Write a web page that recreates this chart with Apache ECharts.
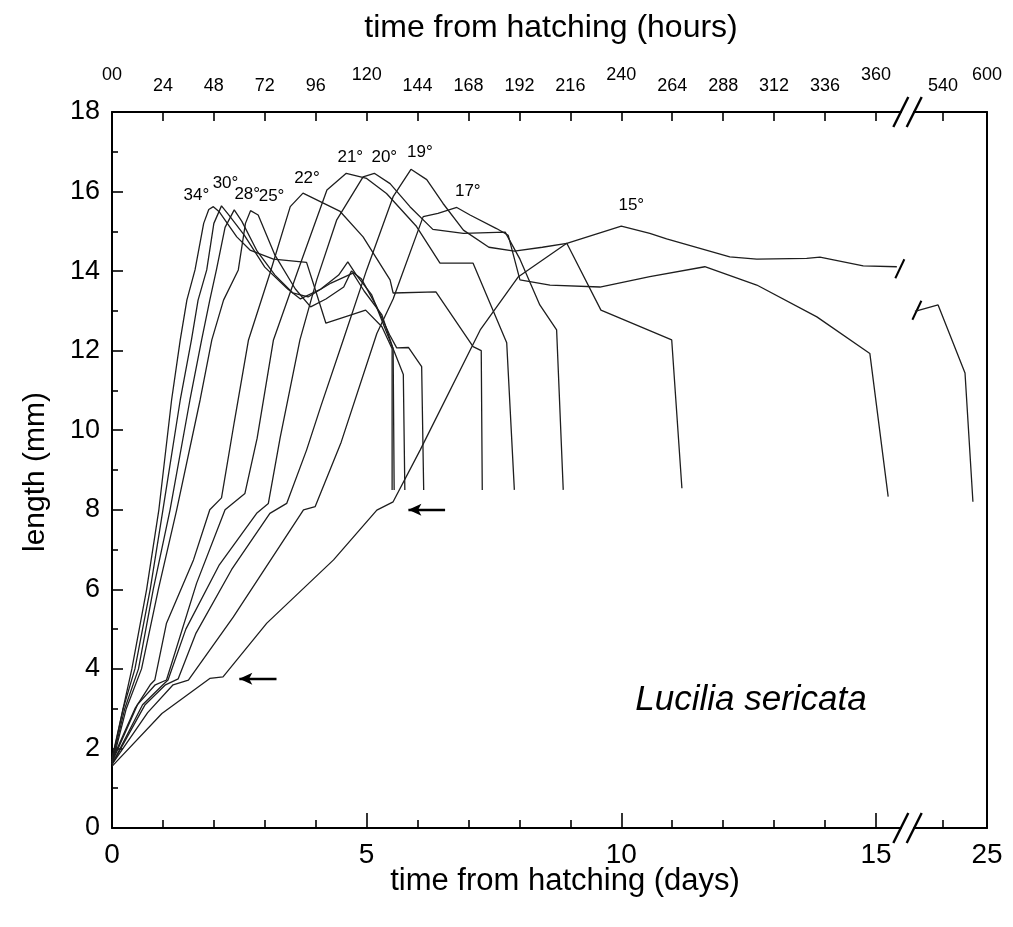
<!DOCTYPE html>
<html><head><meta charset="utf-8">
<script src="https://cdn.jsdelivr.net/npm/echarts@6/dist/echarts.min.js"></script>
<style>html,body{margin:0;padding:0;background:#fff}#c{width:1013px;height:927px}</style>
</head><body><div id="c"></div>
<script>
// ---------------- data (days, length mm) ----------------
const temps = ['34°','30°','28°','25°','22°','21°','20°','19°','17°','15°'];
const c34 = [[0,1.75],[0.2,2.9],[0.39,4.0],[0.68,6.0],[0.92,8.0],[1.17,10.76],[1.34,12.27],[1.47,13.27],[1.63,14.03],[1.8,15.2],[1.9,15.55],[1.99,15.62],[2.1,15.5],[2.45,14.86],[2.71,14.53],[3.17,14.3],[3.82,14.22],[3.95,13.7],[4.2,12.69],[4.98,13.02],[5.3,12.6],[5.5,12.05],[5.5,8.5]];
const c30 = [[0,1.7],[0.22,3.0],[0.45,4.0],[0.75,6.0],[1.0,8.0],[1.34,10.76],[1.56,12.27],[1.69,13.27],[1.86,14.03],[2.0,15.2],[2.15,15.64],[2.3,15.4],[2.6,14.9],[3.0,14.1],[3.45,13.55],[3.7,13.3],[4.1,13.55],[4.45,13.9],[4.63,14.23],[4.8,13.9],[5.1,13.4],[5.52,12.05],[5.54,8.5]];
const c28 = [[0,1.65],[0.25,3.0],[0.52,4.0],[0.81,6.0],[1.14,8.0],[1.53,10.76],[1.76,12.27],[1.92,13.27],[2.05,14.03],[2.22,15.1],[2.4,15.54],[2.55,15.25],[2.85,14.5],[3.2,13.9],[3.55,13.45],[3.85,13.35],[4.3,13.7],[4.73,13.95],[4.95,13.5],[5.3,12.9],[5.52,12.05],[5.72,11.4],[5.75,8.5]];
const c25 = [[0,1.6],[0.28,3.0],[0.58,4.0],[0.91,6.0],[1.27,8.0],[1.73,10.76],[1.96,12.27],[2.19,13.27],[2.48,14.03],[2.62,15.2],[2.72,15.52],[2.87,15.41],[3.2,14.4],[3.6,13.55],[3.9,13.1],[4.2,13.3],[4.55,13.6],[4.7,14.0],[4.9,13.8],[5.2,13.1],[5.45,12.4],[5.59,12.07],[5.82,12.08],[6.08,11.6],[6.12,8.5]];
const c22 = [[0,1.7],[0.45,3.0],[0.75,3.6],[0.84,3.72],[1.07,5.15],[1.6,6.74],[1.92,8.0],[2.15,8.3],[2.4,10.2],[2.68,12.27],[3.1,13.94],[3.5,15.62],[3.75,15.96],[4.48,15.5],[4.93,14.86],[5.46,13.78],[5.52,13.45],[6.36,13.48],[7.09,12.1],[7.25,12.0],[7.27,8.5]];
const c21 = [[0,1.65],[0.5,3.1],[0.85,3.6],[1.07,3.72],[1.66,6.15],[2.22,8.0],[2.61,8.41],[2.85,9.8],[3.17,12.27],[3.63,13.94],[4.22,16.04],[4.6,16.46],[5.0,16.33],[5.39,15.95],[5.98,15.12],[6.44,14.2],[7.09,14.2],[7.75,12.2],[7.9,8.5]];
const c20 = [[0,1.6],[0.6,3.1],[1.0,3.6],[1.1,3.72],[1.45,5.0],[2.1,6.6],[2.84,7.91],[3.07,8.16],[3.3,9.8],[3.69,12.27],[4.02,13.78],[4.41,15.28],[4.93,16.37],[5.15,16.46],[5.46,16.2],[5.85,15.62],[6.3,15.05],[6.9,14.95],[7.72,14.98],[8.01,14.3],[8.4,13.15],[8.73,12.52],[8.86,8.5]];
const c19 = [[0,1.6],[0.65,3.1],[1.05,3.6],[1.3,3.75],[1.65,4.9],[2.35,6.5],[3.1,7.91],[3.43,8.16],[3.82,9.5],[4.1,10.6],[4.54,12.27],[5.0,14.03],[5.52,15.87],[5.87,16.56],[6.18,16.3],[6.5,15.7],[6.9,15.03],[7.4,14.6],[7.9,14.5],[8.45,14.6],[8.93,14.7],[9.6,13.02],[10.99,12.27],[11.19,8.54]];
const c17 = [[0,1.6],[0.7,2.9],[1.2,3.6],[1.5,3.72],[2.38,5.3],[3.76,8.0],[3.99,8.08],[4.5,9.7],[5.2,12.43],[5.52,13.3],[6.11,15.37],[6.4,15.45],[6.77,15.6],[7.03,15.41],[7.55,15.07],[7.78,14.9],[8.01,13.78],[8.6,13.65],[9.58,13.6],[10.56,13.86],[11.64,14.11],[12.66,13.65],[13.84,12.85],[14.88,11.93],[15.24,8.33]];
const c15a = [[0,1.55],[0.98,2.88],[1.92,3.76],[2.18,3.8],[3.04,5.15],[4.35,6.74],[5.2,7.99],[5.52,8.2],[6.05,9.5],[7.23,12.52],[7.98,13.86],[8.93,14.7],[10.0,15.13],[10.56,14.95],[10.89,14.81],[12.13,14.36],[12.66,14.3],[13.64,14.32],[13.9,14.35],[14.75,14.13],[15.41,14.11]];
const c15b = [[20.9,12.99],[22.22,13.15],[23.75,11.44],[24.2,8.2]];

// axis ticks / labels
const bottomTicksA = [0,5,10,15];
const bottomLabelsA = ['0','5','10','15'];
const bottomMinorA = [1,2,3,4,6,7,8,9,11,12,13,14];
const bottomTicksB = [22.5];
const bottomLabelDaysB = [25];
const bottomLabelsB = ['25'];
const topDaysA = [0,1,2,3,4,5,6,7,8,9,10,11,12,13,14,15];
const topLabelsA = ['00','24','48','72','96','120','144','168','192','216','240','264','288','312','336','360'];
const topDaysB = [22.5,25];
const topLabelsB = ['540','600'];
const topRaised = ['00','120','240','360','600'];
const yTicks = [0,2,4,6,8,10,12,14,16,18];
// arrows: [from, to] in (days, mm)
const arrows = [[[3.23,3.75],[2.5,3.75]],[[6.54,8.0],[5.82,8.0]]];

// ---------------- layout / style ----------------
const FONT = "'Liberation Sans', Arial, Helvetica, sans-serif";
const NARROW = "'Liberation Sans Narrow', 'Arial Narrow', 'Liberation Sans', sans-serif";
const PL = 112, PT = 112, PH = 716, AW = 789, BL = 914, BW = 73;
const labelOffsets = [[-17,-11],[4,-23],[13,-16],[21,-14],[4,-15],[4,-16],[10,-16],[9,-17],[11,-16],[10,-21]];

const chart = echarts.init(document.getElementById('c'));
const axisLine = {show:true, onZero:false, lineStyle:{color:'#000', width:2}};
const tickStyle = {color:'#000', width:1.6};

function topFmt(days, labels){
  return function(v){
    const i = days.indexOf(v);
    if (i < 0) return '';
    const s = labels[i];
    return topRaised.indexOf(s) >= 0 ? '{hi|' + s + '}' : '{lo|' + s + '}';
  };
}
const topRich = {
  hi:{fontFamily:NARROW, fontSize:18, color:'#000', padding:[0,0,11,0]},
  lo:{fontFamily:NARROW, fontSize:18, color:'#000'}
};

const curves = [c34,c30,c28,c25,c22,c21,c20,c19,c17,c15a];
const series = curves.map((d,i)=>({
  type:'line', xAxisIndex:0, yAxisIndex:0, data:d, symbol:'none', showSymbol:false,
  lineStyle:{color:'#1e1e1e', width:1.3}, silent:true, animation:false, z:3,
  markLine: i === curves.length-1 ? {
    silent:true, animation:false, symbol:['none','arrow'], symbolSize:[9,13],
    lineStyle:{color:'#000', width:2.4, type:'solid'}, label:{show:false},
    data: arrows.map(a=>[{coord:a[0]},{coord:a[1]}])
  } : undefined
}));
series.push({type:'line', xAxisIndex:2, yAxisIndex:1, data:c15b, symbol:'none', showSymbol:false,
  lineStyle:{color:'#1e1e1e', width:1.3}, silent:true, animation:false, z:3});

chart.setOption({
  animation:false,
  backgroundColor:'#fff',
  grid:[
    {left:PL, top:PT, width:AW, height:PH, outerBoundsMode:'none', containLabel:false},
    {left:BL, top:PT, width:BW, height:PH, outerBoundsMode:'none', containLabel:false},
    {left:PL, top:PT, width:AW, height:PH, outerBoundsMode:'none', containLabel:false}
  ],
  xAxis:[
    {gridIndex:0, type:'value', position:'bottom', min:0, max:AW/50.93, axisLine:axisLine,
     axisTick:{show:true, inside:true, length:15, customValues:bottomTicksA, lineStyle:tickStyle},
     axisLabel:{show:true, customValues:bottomTicksA, hideOverlap:false, margin:13,
       formatter:v=>{const i=bottomTicksA.indexOf(v); return i<0?'':bottomLabelsA[i];},
       fontFamily:NARROW, fontSize:28, color:'#000'},
     splitLine:{show:false}},
    {gridIndex:0, type:'value', position:'top', min:0, max:AW/50.93, axisLine:axisLine,
     axisTick:{show:true, inside:true, length:9, customValues:topDaysA, lineStyle:tickStyle},
     axisLabel:{show:true, customValues:topDaysA, hideOverlap:false, margin:17,
       formatter:topFmt(topDaysA, topLabelsA), rich:topRich, fontFamily:NARROW, fontSize:18, color:'#000'},
     splitLine:{show:false}},
    {gridIndex:1, type:'value', position:'bottom', min:25-BW/17.59, max:25, axisLine:axisLine,
     axisTick:{show:true, inside:true, length:8, customValues:bottomTicksB, lineStyle:tickStyle},
     axisLabel:{show:true, customValues:bottomLabelDaysB, hideOverlap:false, margin:13,
       formatter:v=>{const i=bottomLabelDaysB.indexOf(v); return i<0?'':bottomLabelsB[i];},
       fontFamily:NARROW, fontSize:28, color:'#000'},
     splitLine:{show:false}},
    {gridIndex:1, type:'value', position:'top', min:25-BW/17.59, max:25, axisLine:axisLine,
     axisTick:{show:true, inside:true, length:9, customValues:[22.5], lineStyle:tickStyle},
     axisLabel:{show:true, customValues:topDaysB, hideOverlap:false, margin:17,
       formatter:topFmt(topDaysB, topLabelsB), rich:topRich, fontFamily:NARROW, fontSize:18, color:'#000'},
     splitLine:{show:false}},
    {gridIndex:2, type:'value', position:'bottom', min:0, max:AW/50.93, axisLine:{show:false},
     axisTick:{show:true, inside:true, length:8, customValues:bottomMinorA, lineStyle:tickStyle},
     axisLabel:{show:false}, splitLine:{show:false}}
  ],
  yAxis:[
    {gridIndex:0, type:'value', position:'left', min:0, max:18, interval:2, axisLine:axisLine,
     axisTick:{show:true, inside:true, length:11, lineStyle:tickStyle},
     minorTick:{show:true, splitNumber:2, length:6, lineStyle:tickStyle},
     axisLabel:{show:true, margin:12, fontFamily:FONT, fontSize:27, color:'#000',
       customValues:yTicks, formatter:v=>String(v)},
     splitLine:{show:false}, minorSplitLine:{show:false}},
    {gridIndex:1, type:'value', position:'right', min:0, max:18, axisLine:axisLine,
     axisTick:{show:false}, axisLabel:{show:false}, splitLine:{show:false}},
    {gridIndex:2, type:'value', min:0, max:18, show:false}
  ],
  series:series
});

// ---------------- annotations ----------------
const g = [];
curves.forEach((d,i)=>{
  const p = d.reduce((a,b)=> b[1]>a[1]?b:a);
  const px = chart.convertToPixel({gridIndex:0}, p);
  g.push({type:'text', x:px[0]+labelOffsets[i][0], y:px[1]+labelOffsets[i][1], silent:true,
    style:{text:temps[i], fontFamily:FONT, fontSize:17, fill:'#000', align:'center', verticalAlign:'middle'}});
});
// curve break marks on the 15° series
const e1 = chart.convertToPixel({gridIndex:0}, c15a[c15a.length-1]);
const s2 = chart.convertToPixel({gridIndex:1}, c15b[0]);
[[e1[0]+3,e1[1]+2],[s2[0]+2,s2[1]-1]].forEach(c=>{
  g.push({type:'line', silent:true, shape:{x1:c[0]-4.5,y1:c[1]+9.5,x2:c[0]+4.5,y2:c[1]-9.5},
    style:{stroke:'#000', lineWidth:2}});
});
// axis break marks
[PT, PT+PH].forEach(yy=>{
  [PL+AW-0.2, BL+0.2].forEach(xx=>{
    g.push({type:'line', silent:true, shape:{x1:xx-7.5,y1:yy+15,x2:xx+7.5,y2:yy-15},
      style:{stroke:'#000', lineWidth:2.4}});
  });
});
// titles
g.push({type:'text', x:551, y:28, silent:true, style:{text:'time from hatching (hours)', fontFamily:FONT, fontSize:32, fill:'#000', align:'center', verticalAlign:'middle'}});
g.push({type:'text', x:565, y:881, silent:true, style:{text:'time from hatching (days)', fontFamily:FONT, fontSize:31, fill:'#000', align:'center', verticalAlign:'middle'}});
g.push({type:'text', x:36, y:472, rotation:Math.PI/2, silent:true, style:{text:'length (mm)', fontFamily:FONT, fontSize:30, fill:'#000', align:'center', verticalAlign:'middle'}});
g.push({type:'text', x:751, y:700, silent:true, style:{text:'Lucilia sericata', fontFamily:FONT, fontStyle:'italic', fontSize:35, fill:'#000', align:'center', verticalAlign:'middle'}});
chart.setOption({graphic:g});
</script>
</body></html>
